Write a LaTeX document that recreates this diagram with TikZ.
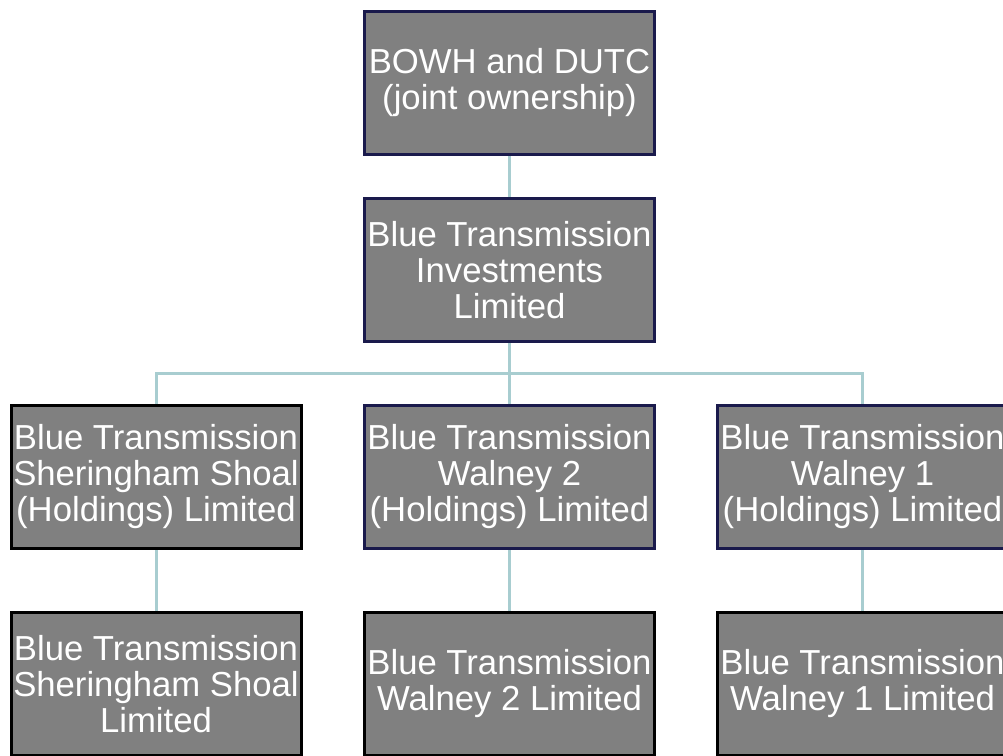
\documentclass[tikz,border=0pt]{standalone}
\usepackage{fontspec}
\setmainfont{Liberation Sans}
\usetikzlibrary{backgrounds}
\definecolor{boxfill}{RGB}{128,128,128}
\definecolor{navy}{RGB}{26,26,76}
\definecolor{linkc}{RGB}{168,205,208}
\tikzset{
  orgbox/.style={draw=navy, line width=3pt, fill=boxfill, minimum width=290pt, minimum height=143pt, inner sep=0pt, align=center, text=white, font=\fontsize{34.7}{36}\selectfont},
  blackbox/.style={orgbox, draw=black},
  link/.style={draw=linkc, line width=3pt}
}
\begin{document}
\begin{tikzpicture}[x=1pt,y=1pt]
\useasboundingbox (0,0) rectangle (1003,-755);
\node[orgbox] (top) at (509.5,-83) {BOWH and DUTC\\(joint ownership)};
\node[orgbox] (bti) at (509.5,-270) {Blue Transmission\\Investments\\Limited};
\node[blackbox] (h1) at (156,-477) {Blue Transmission\\Sheringham Shoal\\(Holdings) Limited};
\node[orgbox] (h2) at (509.5,-477) {Blue Transmission\\Walney 2\\(Holdings) Limited};
\node[orgbox] (h3) at (862.5,-477) {Blue Transmission\\Walney 1\\(Holdings) Limited};
\node[blackbox] (l1) at (156,-684) {Blue Transmission\\Sheringham Shoal\\Limited};
\node[blackbox] (l2) at (509.5,-684) {Blue Transmission\\Walney 2 Limited};
\node[blackbox] (l3) at (862.5,-684) {Blue Transmission\\Walney 1 Limited};
\coordinate (bus) at (509.5,-373);
\begin{scope}[on background layer]
\draw[link] (top.south) -- (bti.north);
\draw[link] (bti.south) -- (bus);
\draw[link] (bus) -| (h1.north);
\draw[link] (bus) -- (h2.north);
\draw[link] (bus) -| (h3.north);
\draw[link] (h1.south) -- (l1.north);
\draw[link] (h2.south) -- (l2.north);
\draw[link] (h3.south) -- (l3.north);
\end{scope}
\end{tikzpicture}
\end{document}
